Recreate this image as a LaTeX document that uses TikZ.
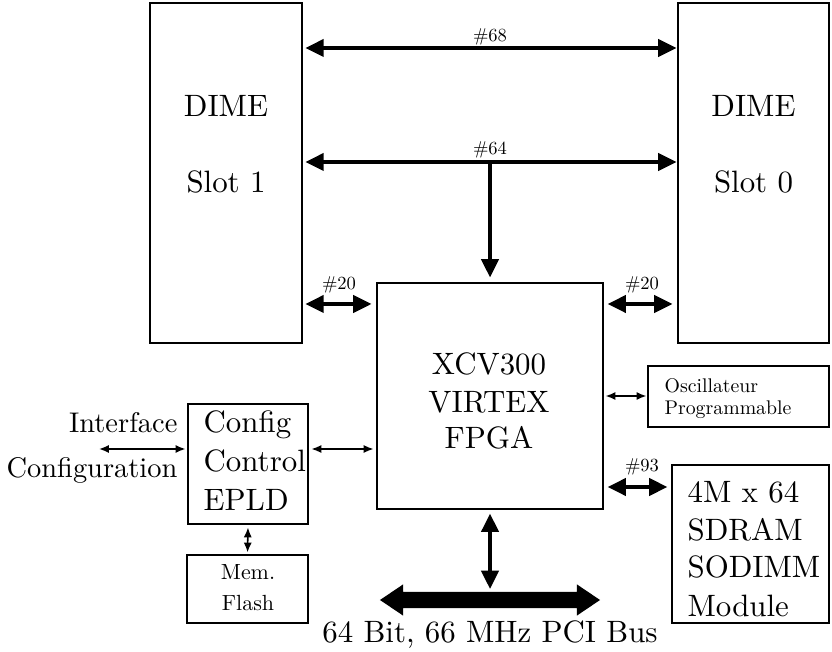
\documentclass[tikz,border=0pt]{standalone}
\usepackage{fontspec}
\setmainfont{lmroman10-regular.otf}
\usetikzlibrary{arrows.meta,shapes.arrows}
\begin{document}
\begin{tikzpicture}[x=0.3236pt,y=-0.3236pt,
  box/.style={draw,line width=0.42pt,inner sep=0pt},
  txt/.style={inner sep=0pt,anchor=base,font=\fontsize{10}{12}\selectfont},
  txtl/.style={txt,anchor=base west},
  txtr/.style={txt,anchor=base east,font=\fontsize{9.2}{11}\selectfont},
  lbl/.style={inner sep=0pt,anchor=base,font=\fontsize{6}{7}\selectfont},
  bigbus/.style={line width=1pt,{Triangle[length=5.9pt,width=5.6pt]}-{Triangle[length=5.9pt,width=5.6pt]}},
  bigone/.style={line width=1pt,-{Triangle[length=5.9pt,width=5.6pt]}},
  thinar/.style={line width=0.5pt,{Latex[length=3.2pt,width=2.6pt]}-{Latex[length=3.2pt,width=2.6pt]}}
]
\useasboundingbox (0,0) rectangle (832,652);

% boxes
\node[box,minimum width=49.19pt,minimum height=110.02pt] (slot1) at (226,173) {};
\node[box,minimum width=48.86pt,minimum height=110.02pt] (slot0) at (753.5,173) {};
\node[box,minimum width=73.13pt,minimum height=73.13pt] (fpga) at (490,396) {};
\node[box,minimum width=38.83pt,minimum height=38.83pt] (config) at (248,464) {};
\node[box,minimum width=39.16pt,minimum height=22.0pt] (mem) at (247.5,589) {};
\node[box,minimum width=58.57pt,minimum height=19.74pt] (osc) at (738.5,396.5) {};
\node[box,minimum width=50.8pt,minimum height=51.13pt] (sdram) at (750.5,544) {};

% box texts
\node[txt] (s1a) at (226,117) {DIME};
\node[txt] (s1b) at (226,193) {Slot 1};
\node[txt] (s0a) at (753.5,117) {DIME};
\node[txt] (s0b) at (753.5,193) {Slot 0};
\node[txt] (f1) at (489,375) {XCV300};
\node[txt] (f2) at (489,413) {VIRTEX};
\node[txt] (f3) at (489,449) {FPGA};
\node[txtl] (c1) at (203,433) {Config};
\node[txtl] (c2) at (203,472) {Control};
\node[txtl] (c3) at (203,511) {EPLD};
\node[txt,font=\fontsize{7.1}{8.5}\selectfont] (m1) at (248,580) {Mem.};
\node[txt,font=\fontsize{7.1}{8.5}\selectfont] (m2) at (248,610) {Flash};
\node[txtl,font=\fontsize{6.4}{7.7}\selectfont] (o1) at (664,393) {Oscillateur};
\node[txtl,font=\fontsize{6.4}{7.7}\selectfont] (o2) at (664,415) {Programmable};
\node[txtl] (d1) at (687,503) {4M x 64};
\node[txtl] (d2) at (687,541) {SDRAM};
\node[txtl] (d3) at (687,578) {SODIMM};
\node[txtl] (d4) at (687,616) {Module};
\node[txtr] (i1) at (178,433) {Interface};
\node[txtr] (i2) at (178,478) {Configuration};
\node[txt] (pcitxt) at (490,642) {64 Bit, 66 MHz PCI Bus};

% PCI bus
\node[double arrow,fill,draw=none,inner xsep=0pt,inner ysep=2.43pt,minimum height=71.2pt,minimum width=9.7pt,
  double arrow head extend=2.43pt,double arrow tip angle=68] (pci) at (490,600) {};

% labels
\node[lbl] (l68) at (490,42) {\#68};
\node[lbl] (l64) at (490,155) {\#64};
\node[lbl] (l20a) at (339,290) {\#20};
\node[lbl] (l20b) at (642,290) {\#20};
\node[lbl] (l93) at (642,472) {\#93};

% coordinates
\coordinate (j64) at (490,162);
\coordinate (ifc) at (99,449);
\coordinate (pcitop) at (490,592);

% connectors
\draw[bigbus,shorten <=0.9pt,shorten >=0.3pt] (slot1.east |- 0,48) -- (slot0.west |- 0,48);
\draw[bigbus,shorten <=0.9pt,shorten >=0.3pt] (slot1.east |- j64) -- (slot0.west |- j64);
\draw[bigone,shorten >=1.6pt] (j64) -- (fpga.north);
\draw[bigbus,shorten <=0.9pt,shorten >=1.6pt] (slot1.east |- 0,304) -- (fpga.west |- 0,304);
\draw[bigbus,shorten <=1.3pt,shorten >=1.6pt] (fpga.east |- 0,304) -- (slot0.west |- 0,304);
\draw[thinar,shorten <=0.9pt,shorten >=0.9pt] (config.east |- ifc) -- (fpga.west |- ifc);
\draw[thinar,shorten >=0.6pt] (ifc) -- (config.west |- ifc);
\draw[thinar,shorten <=0.6pt,shorten >=0.3pt] (fpga.east |- 0,396) -- (osc.west |- 0,396);
\draw[bigbus,shorten <=1.3pt,shorten >=1.3pt] (fpga.east |- 0,487) -- (sdram.west |- 0,487);
\draw[thinar,shorten <=0.9pt,shorten >=0.6pt] (config.south) -- (mem.north);
\draw[bigbus,shorten <=1.3pt,shorten >=1pt] (fpga.south) -- (pcitop);
\end{tikzpicture}
\end{document}
